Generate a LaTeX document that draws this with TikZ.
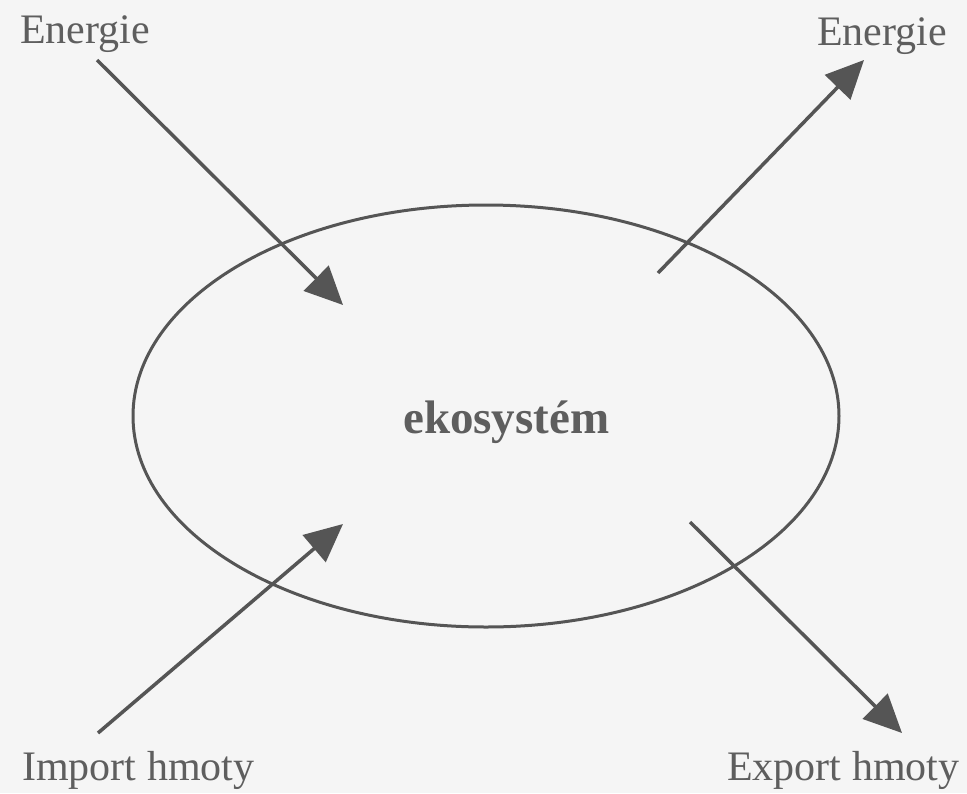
\documentclass[tikz,border=0pt]{standalone}
\usepackage{fontspec}
\setmainfont{Liberation Serif}
\usetikzlibrary{arrows.meta,shapes.geometric}
\definecolor{bgc}{HTML}{F5F5F5}
\definecolor{txtc}{HTML}{5E5E5E}
\definecolor{linec}{HTML}{555555}
\tikzset{
  lbl/.style={inner sep=0pt, anchor=base west, text=txtc, font=\fontsize{42}{48}\selectfont},
  flow/.style={draw=linec, line width=3.5pt, -{Triangle[length=38pt,width=35pt]}},
  eco/.style={draw=linec, line width=3pt, ellipse, minimum width=706pt, minimum height=422pt, inner sep=0pt},
}
\begin{document}
\begin{tikzpicture}[x=1pt,y=-1pt]
\fill[bgc] (0,0) rectangle (967,793);
\useasboundingbox (0,0) rectangle (967,793);
% ellipse
\node[eco] (eko) at (486,416) {};
\node[lbl, font=\fontsize{47}{54}\selectfont\bfseries] (ektxt) at (403,433) {ekosystém};
% labels
\node[lbl] (e1) at (20,43) {Energie};
\node[lbl] (e2) at (817,45) {Energie};
\node[lbl] (imp) at (22,780) {Import hmoty};
\node[lbl] (exp) at (727,780) {Export hmoty};
% arrow endpoints
\coordinate (a1s) at (97,60);   \coordinate (a1t) at (343,305);
\coordinate (a2s) at (658,273); \coordinate (a2t) at (864,60);
\coordinate (a3s) at (98,733);  \coordinate (a3t) at (343,524);
\coordinate (a4s) at (690,522); \coordinate (a4t) at (902,733);
\draw[flow] (a1s) -- (a1t);
\draw[flow] (a2s) -- (a2t);
\draw[flow] (a3s) -- (a3t);
\draw[flow] (a4s) -- (a4t);
\end{tikzpicture}
\end{document}
